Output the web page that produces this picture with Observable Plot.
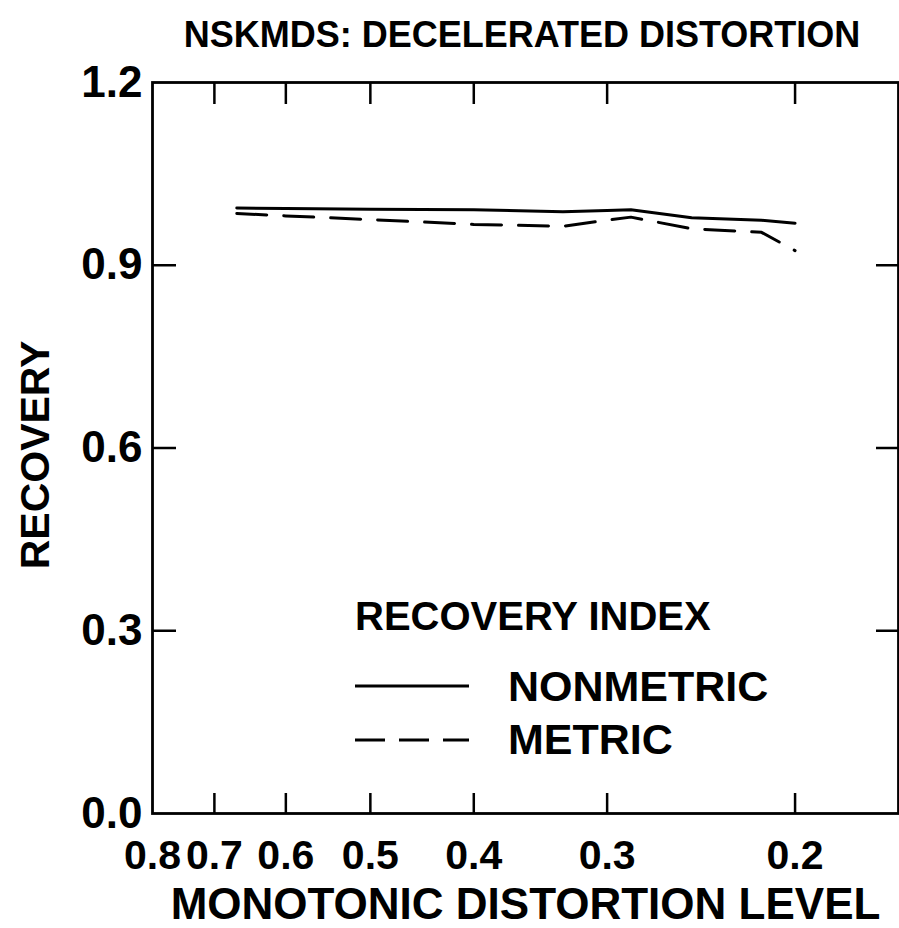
<!DOCTYPE html>
<html>
<head>
<meta charset="utf-8">
<script src="https://cdn.jsdelivr.net/npm/d3@7"></script>
<script src="https://cdn.jsdelivr.net/npm/@observablehq/plot@0.6"></script>
<style>
  body { margin: 0; background: #fff; }
  #chart { position: relative; width: 899px; height: 928px; font-family: "Liberation Sans", Arial, sans-serif; color: #000; overflow: hidden; }
  #title { position: absolute; top: 17px; left: 522px; transform: translateX(-50%); white-space: nowrap; font-size: 36px; font-weight: bold; line-height: 36px; }
  #plot { position: absolute; top: 60px; left: 0; }
  .lg { position: absolute; white-space: nowrap; font-weight: bold; }
  .lg svg { display: block; }
</style>
</head>
<body>
<div id="chart">
  <div id="title">NSKMDS: DECELERATED DISTORTION</div>
  <div id="plot"></div>
  <div class="lg" style="left:355px;top:596px;font-size:40px;line-height:40px;">RECOVERY INDEX</div>
  <div class="lg" style="left:355px;top:683px;"><svg width="115" height="6"><line x1="0" x2="114" y1="3" y2="3" stroke="#000" stroke-width="3"/></svg></div>
  <div class="lg" style="left:508px;top:665px;font-size:43px;line-height:43px;">NONMETRIC</div>
  <div class="lg" style="left:355px;top:737px;"><svg width="115" height="6"><line x1="0" x2="114" y1="3" y2="3" stroke="#000" stroke-width="3" stroke-dasharray="30,14"/></svg></div>
  <div class="lg" style="left:508px;top:718px;font-size:43px;line-height:43px;">METRIC</div>
</div>
<script>
// Monotonic distortion levels and mean recovery for each index
const levels    = [0.667, 0.6,   0.5,   0.4,   0.33,  0.3,   0.285, 0.25,  0.215, 0.2];
const nonmetric = [0.994, 0.993, 0.992, 0.991, 0.988, 0.990, 0.991, 0.978, 0.974, 0.969];
const metric    = [0.985, 0.981, 0.975, 0.967, 0.964, 0.974, 0.979, 0.960, 0.954, 0.924];

const xTicks = [0.8, 0.7, 0.6, 0.5, 0.4, 0.3, 0.2];
const xInner = [0.7, 0.6, 0.5, 0.4, 0.3, 0.2];
const yTicks = [0, 0.3, 0.6, 0.9, 1.2];
const yInner = [0.3, 0.6, 0.9];

const rows = (vals) => levels.map((level, i) => ({level, value: vals[i]}));

const W = 899, H = 868;
const mt = 22, mb = 115, ml = 152, mr = 1;
const fw = W - ml - mr, fh = H - mt - mb;
const fmt = d3.format(".1f");

const chart = Plot.plot({
  width: W,
  height: H,
  marginTop: mt,
  marginBottom: mb,
  marginLeft: ml,
  marginRight: mr,
  style: {fontFamily: '"Liberation Sans", Arial, sans-serif', color: "#000", background: "#fff", overflow: "visible"},
  x: {type: "log", domain: [0.8, 0.16]},
  y: {domain: [0, 1.2]},
  marks: [
    Plot.axisX(xTicks, {anchor: "bottom", tickSize: 0, tickPadding: 26, tickFormat: fmt, fontSize: 41, fontWeight: "bold", label: null}),
    Plot.axisY(yTicks, {anchor: "left", tickSize: 0, tickPadding: 10, tickFormat: fmt, fontSize: 44, fontWeight: "bold", label: null}),
    // inward tick marks on all four sides
    Plot.tickX(xInner, {x: d => d, insetTop: fh - 20, stroke: "#000", strokeWidth: 2.5}),
    Plot.tickX(xInner, {x: d => d, insetBottom: fh - 22, stroke: "#000", strokeWidth: 2.5}),
    Plot.tickY(yInner, {y: d => d, insetRight: fw - 24, stroke: "#000", strokeWidth: 2.5}),
    Plot.tickY(yInner, {y: d => d, insetLeft: fw - 22, stroke: "#000", strokeWidth: 2.5}),
    Plot.frame({stroke: "#000", strokeWidth: 2.8}),
    // axis titles
    Plot.text(["MONOTONIC DISTORTION LEVEL"], {frameAnchor: "bottom", lineAnchor: "middle", textAnchor: "middle", dy: 91, fontSize: 44, fontWeight: "bold", fill: "#000"}),
    Plot.text(["RECOVERY"], {frameAnchor: "left", textAnchor: "middle", lineAnchor: "middle", rotate: -90, dx: -117, dy: 7, fontSize: 41, fontWeight: "bold", fill: "#000"}),
    // recovery curves
    Plot.line(rows(nonmetric), {x: "level", y: "value", stroke: "#000", strokeWidth: 3, curve: "linear"}),
    Plot.line(rows(metric), {x: "level", y: "value", stroke: "#000", strokeWidth: 3, strokeDasharray: "30,17", curve: "linear"})
  ]
});

document.getElementById("plot").appendChild(chart);
</script>
</body>
</html>
